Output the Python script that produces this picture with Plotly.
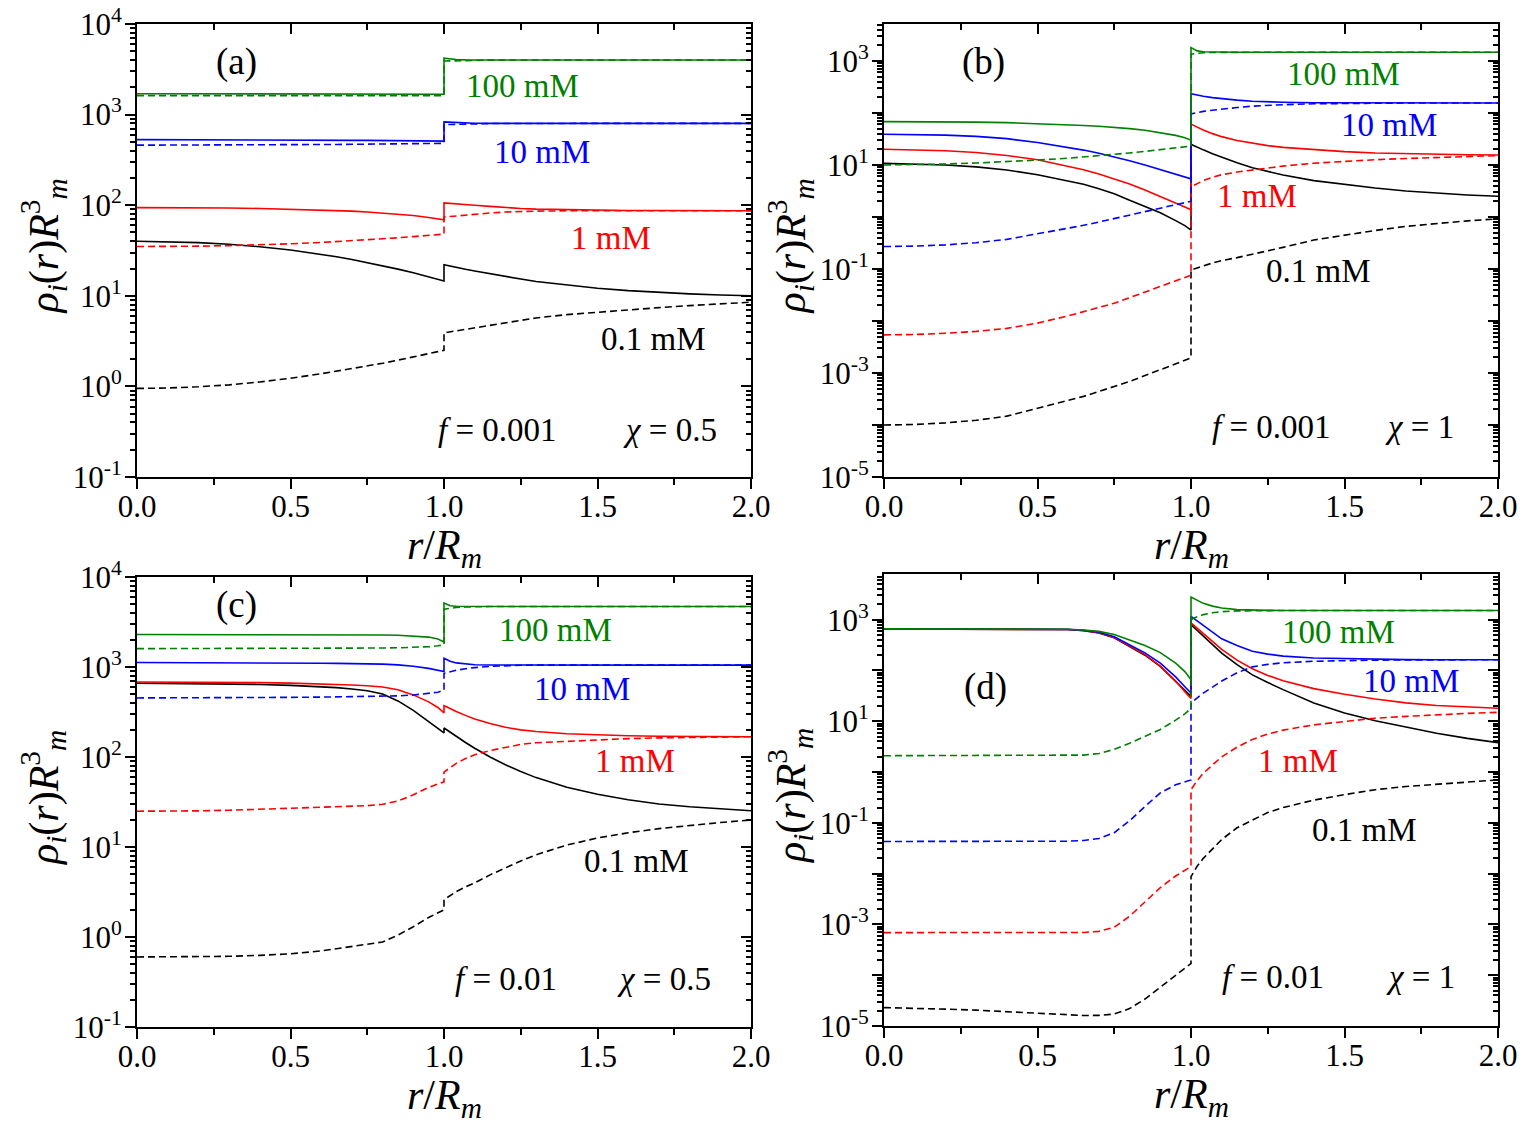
import math
import plotly.graph_objects as go

# ---------------- data ----------------
X_IN = [0.0, 0.1, 0.2, 0.3, 0.4, 0.5, 0.6, 0.65, 0.7, 0.75, 0.8, 0.85, 0.9, 0.95, 0.98, 1.0]
X_OUT = [1.0, 1.01, 1.02, 1.04, 1.07, 1.1, 1.15, 1.2, 1.25, 1.3, 1.4, 1.5, 1.6, 1.7, 1.8, 1.9, 2.0]
CONC_LABELS = ["0.1 mM", "1 mM", "10 mM", "100 mM"]
PANEL_TAGS = ["(a)", "(b)", "(c)", "(d)"]
F_LABELS = ["0.001", "0.001", "0.01", "0.01"]
CHI_LABELS = ["0.5", "1", "0.5", "1"]

# panel (a): f=0.001, chi=0.5  (solid / dashed), values inside (X_IN) then outside (X_OUT)
A_BLACK_SOLID = [40, 39.6, 38.6, 37, 34.8, 32, 28.8, 27, 25.2, 23.3, 21.5, 19.7, 18, 16.2, 15.2, 14.6,
                 22, 21.6, 21.2, 20.5, 19.6, 18.8, 17.5, 16.4, 15.3, 14.4, 13.1, 12.1, 11.4, 10.9, 10.5, 10.2, 10]
A_BLACK_DASH = [0.95, 0.96, 0.99, 1.04, 1.12, 1.23, 1.38, 1.47, 1.57, 1.68, 1.8, 1.95, 2.1, 2.3, 2.42, 2.5,
                3.9, 3.95, 4.0, 4.1, 4.3, 4.5, 4.8, 5.1, 5.4, 5.7, 6.2, 6.6, 7.0, 7.4, 7.8, 8.2, 8.5]
A_RED_SOLID = [94, 94, 93.5, 93, 92, 90.5, 88.5, 87.3, 86, 84.2, 82, 79.7, 77, 73, 71, 69,
               106, 105.5, 105, 104, 102, 100, 97, 94, 92, 90.5, 89, 88, 87.5, 87.3, 87.2, 87.1, 87]
A_RED_DASH = [35, 35, 35.3, 35.8, 36.5, 37.5, 38.8, 39.6, 40.5, 41.5, 42.5, 43.7, 45, 46.5, 47.4, 48,
              74, 74.5, 75, 76.5, 78.5, 80, 82, 84, 85.2, 86, 86.7, 87, 87, 87, 87, 87, 87]
A_BLUE_SOLID = [530, 530, 528, 527, 525, 523, 522, 521, 520, 519, 518, 517, 515, 513, 511, 510,
                830, 826, 822, 815, 808, 804, 801, 800, 800, 800, 800, 800, 800, 800, 800, 800, 800]
A_BLUE_DASH = [460, 460, 461, 462, 463, 465, 467, 468, 470, 471, 473, 475, 477, 480, 481, 482,
               775, 777, 779, 783, 788, 792, 796, 798, 800, 800, 800, 800, 800, 800, 800, 800, 800]
A_GREEN_SOLID = [1700, 1700, 1700, 1700, 1700, 1700, 1700, 1700, 1700, 1700, 1700, 1695, 1690, 1690, 1685, 1680,
                 4200, 4150, 4100, 4050, 4020, 4000, 4000, 4000, 4000, 4000, 4000, 4000, 4000, 4000, 4000, 4000, 4000]
A_GREEN_DASH = [1620, 1620, 1620, 1620, 1620, 1620, 1620, 1620, 1620, 1620, 1620, 1620, 1620, 1620, 1620, 1620,
                3900, 3910, 3920, 3940, 3960, 3980, 3995, 4000, 4000, 4000, 4000, 4000, 4000, 4000, 4000, 4000, 4000]

# panel (b): f=0.001, chi=1
B_BLACK_SOLID = [10.7, 10.5, 10, 9.2, 8, 6.5, 5, 4.25, 3.5, 2.8, 2.1, 1.6, 1.2, 0.85, 0.68, 0.56,
                 25, 23.5, 22, 19.5, 16.5, 14, 11, 8.8, 7.4, 6.4, 5.0, 4.2, 3.6, 3.15, 2.85, 2.65, 2.5]
B_BLACK_DASH = [1.0e-4, 1.02e-4, 1.1e-4, 1.23e-4, 1.48e-4, 2.1e-4, 2.9e-4, 3.55e-4, 4.4e-4, 5.5e-4, 6.9e-4,
                8.9e-4, 1.15e-3, 1.5e-3, 1.74e-3, 1.95e-3,
                0.095, 0.1, 0.105, 0.115, 0.13, 0.145, 0.165, 0.19, 0.22, 0.26, 0.36, 0.45, 0.55, 0.66, 0.75, 0.84, 0.92]
B_RED_SOLID = [20, 19.7, 18.8, 17.3, 15.2, 12.6, 9.6, 8.1, 6.7, 5.4, 4.3, 3.3, 2.5, 1.85, 1.55, 1.37,
               61, 57, 53, 47, 40, 35, 29.5, 26, 23.5, 21.8, 19.5, 18, 17, 16.4, 16, 15.7, 15.5]
B_RED_DASH = [0.0054, 0.0055, 0.0058, 0.0063, 0.0072, 0.0091, 0.0125, 0.015, 0.018, 0.022, 0.028, 0.036,
              0.046, 0.058, 0.068, 0.076,
              3.8, 4.1, 4.4, 5.0, 5.8, 6.5, 7.3, 8.0, 8.8, 9.5, 10.8, 11.8, 12.6, 13.3, 14, 14.6, 15.1]
B_BLUE_SOLID = [39, 38.6, 37.5, 35.5, 32, 27, 22, 19.3, 16.8, 14.3, 12, 10, 8.2, 6.6, 5.9, 5.4,
                235, 228, 221, 210, 197, 187, 176, 168, 163, 160, 157, 156, 155, 155, 155, 155, 155]
B_BLUE_DASH = [0.27, 0.275, 0.29, 0.32, 0.37, 0.47, 0.6, 0.69, 0.8, 0.93, 1.08, 1.25, 1.45, 1.7, 1.85, 2.0,
               96, 99, 102, 107, 113, 119, 127, 135, 140, 144, 150, 153, 155, 155, 155, 155, 155]
B_GREEN_SOLID = [68, 68, 67.5, 66.5, 65, 62.5, 59.5, 57.5, 55.5, 53, 50, 46.5, 42, 37, 33.5, 30,
                 1800, 1650, 1560, 1500, 1480, 1470, 1470, 1470, 1470, 1470, 1470, 1470, 1470, 1470, 1470, 1470, 1470]
B_GREEN_DASH = [10, 10.1, 10.4, 10.9, 11.5, 12.4, 13.5, 14.2, 15, 16, 17, 18.2, 19.5, 21, 22, 23,
                1350, 1380, 1410, 1440, 1455, 1465, 1470, 1470, 1470, 1470, 1470, 1470, 1470, 1470, 1470, 1470, 1470]

# panel (c): f=0.01, chi=0.5
C_BLACK_SOLID = [660, 658, 655, 650, 640, 625, 605, 590, 570, 545, 500, 420, 330, 250, 210, 185,
                 210, 200, 190, 170, 145, 125, 100, 82, 69, 59, 46, 38.5, 33.5, 30, 28, 26.5, 25.3]
C_BLACK_DASH = [0.6, 0.6, 0.605, 0.61, 0.625, 0.65, 0.7, 0.74, 0.78, 0.82, 0.88, 1.05, 1.3, 1.65, 1.85, 2.0,
                2.6, 2.75, 2.9, 3.2, 3.6, 4.0, 4.9, 5.9, 7.0, 8.2, 10.5, 12.6, 14.4, 16, 17.4, 18.7, 20]
C_RED_SOLID = [680, 680, 678, 675, 670, 662, 650, 640, 630, 620, 600, 560, 490, 410, 355, 310,
               372, 360, 345, 320, 290, 265, 235, 214, 200, 192, 181, 175, 172, 170, 169, 168, 168]
C_RED_DASH = [25, 25, 25.2, 25.6, 26.2, 26.8, 27.5, 27.9, 28.3, 28.8, 29.8, 32.5, 38, 46, 50, 53,
              68, 72, 76, 85, 96, 106, 118, 128, 138, 144, 150, 156, 160, 163, 165, 167, 168]
C_BLUE_SOLID = [1120, 1120, 1118, 1115, 1112, 1108, 1100, 1097, 1092, 1085, 1075, 1055, 1020, 965, 920, 890,
                1250, 1200, 1160, 1110, 1075, 1060, 1052, 1050, 1050, 1050, 1050, 1050, 1050, 1050, 1050, 1050, 1050]
C_BLUE_DASH = [453, 453, 454, 455, 457, 460, 463, 465, 467, 469, 472, 478, 488, 505, 525, 550,
               850, 870, 890, 920, 955, 985, 1015, 1035, 1045, 1050, 1050, 1050, 1050, 1050, 1050, 1050, 1050]
C_GREEN_SOLID = [2300, 2300, 2300, 2300, 2300, 2295, 2290, 2285, 2280, 2275, 2265, 2250, 2220, 2150, 2050, 1900,
                 5150, 4950, 4800, 4730, 4710, 4700, 4700, 4700, 4700, 4700, 4700, 4700, 4700, 4700, 4700, 4700, 4700]
C_GREEN_DASH = [1600, 1600, 1600, 1600, 1602, 1605, 1610, 1612, 1615, 1620, 1625, 1635, 1650, 1680, 1720, 1760,
                4400, 4450, 4500, 4580, 4640, 4680, 4700, 4700, 4700, 4700, 4700, 4700, 4700, 4700, 4700, 4700, 4700]

# panel (d): f=0.01, chi=1
D_BLACK_SOLID = [660, 660, 660, 660, 660, 655, 640, 610, 550, 440, 300, 200, 120, 62, 40, 31,
                 800, 700, 610, 470, 320, 220, 130, 82, 58, 42, 23, 14.5, 10.2, 7.6, 5.8, 4.6, 3.8]
D_BLACK_DASH = [2.3e-5, 2.25e-5, 2.15e-5, 2.05e-5, 1.9e-5, 1.75e-5, 1.64e-5, 1.61e-5, 1.62e-5, 1.72e-5, 2.2e-5,
                3.4e-5, 5.8e-5, 1.0e-4, 1.35e-4, 1.7e-4,
                0.0087, 0.011, 0.014, 0.02, 0.031, 0.047, 0.08, 0.115, 0.16, 0.2, 0.28, 0.36, 0.45, 0.52, 0.58, 0.64, 0.7]
D_RED_SOLID = [660, 660, 660, 660, 660, 655, 640, 612, 555, 445, 305, 205, 122, 62, 38, 28,
               870, 770, 680, 540, 380, 260, 160, 108, 80, 63, 44, 34, 27.5, 23, 20.5, 19, 18]
D_RED_DASH = [6.9e-4, 6.9e-4, 6.9e-4, 6.85e-4, 6.8e-4, 6.8e-4, 6.85e-4, 6.95e-4, 7.3e-4, 8.8e-4, 1.45e-3, 2.8e-3,
              5.3e-3, 9.0e-3, 0.0118, 0.0138,
              0.45, 0.55, 0.68, 0.95, 1.4, 2.0, 3.1, 4.4, 5.6, 6.7, 8.5, 10, 11.5, 12.5, 13.5, 14.3, 15]
D_BLUE_SOLID = [660, 660, 660, 660, 660, 656, 643, 618, 565, 460, 320, 222, 140, 75, 48, 36,
                1160, 1050, 950, 790, 590, 420, 310, 240, 210, 192, 176, 170, 166, 164, 163, 163, 163]
D_BLUE_DASH = [0.043, 0.043, 0.043, 0.043, 0.043, 0.043, 0.0435, 0.045, 0.049, 0.064, 0.11, 0.21, 0.39, 0.56, 0.65, 0.7,
               23, 26, 29, 36, 47, 62, 90, 118, 132, 142, 152, 157, 160, 161, 162, 163, 163]
D_GREEN_SOLID = [660, 660, 660, 660, 660, 657, 648, 628, 590, 510, 400, 310, 225, 140, 95, 66,
                 2800, 2600, 2400, 2100, 1850, 1700, 1580, 1540, 1525, 1520, 1520, 1520, 1520, 1520, 1520, 1520, 1520]
D_GREEN_DASH = [2.1, 2.1, 2.1, 2.1, 2.1, 2.1, 2.11, 2.16, 2.32, 2.8, 3.7, 5.0, 6.9, 10.5, 14, 18,
                1000, 1080, 1150, 1260, 1370, 1440, 1490, 1510, 1518, 1520, 1520, 1520, 1520, 1520, 1520, 1520, 1520]

# y-axis decades per panel (exponents)
A_DECADES = [-1, 0, 1, 2, 3, 4]
B_DECADES = [-5, -4, -3, -2, -1, 0, 1, 2, 3]
C_DECADES = [-1, 0, 1, 2, 3, 4]
D_DECADES = [-5, -4, -3, -2, -1, 0, 1, 2, 3]
B_LABELED = [-5, -3, -1, 1, 3]
D_LABELED = [-5, -3, -1, 1, 3]
X_TICKS = [0.0, 0.5, 1.0, 1.5, 2.0]

# ---------------- styling ----------------
FONT = "Liberation Serif, Times New Roman, serif"
COLORS = ["#000000", "#ff0000", "#0000ff", "#008000"]
W, H = 1524, 1125
TICK_SIZE = 31

panels = [
    dict(series=[(A_BLACK_SOLID, A_BLACK_DASH), (A_RED_SOLID, A_RED_DASH),
                 (A_BLUE_SOLID, A_BLUE_DASH), (A_GREEN_SOLID, A_GREEN_DASH)],
         decades=A_DECADES, labeled=A_DECADES, yrange=[-1, 4], box=(137, 751, 24, 477)),
    dict(series=[(B_BLACK_SOLID, B_BLACK_DASH), (B_RED_SOLID, B_RED_DASH),
                 (B_BLUE_SOLID, B_BLUE_DASH), (B_GREEN_SOLID, B_GREEN_DASH)],
         decades=B_DECADES, labeled=B_LABELED, yrange=[-5, 3.71], box=(884, 1498, 24, 477)),
    dict(series=[(C_BLACK_SOLID, C_BLACK_DASH), (C_RED_SOLID, C_RED_DASH),
                 (C_BLUE_SOLID, C_BLUE_DASH), (C_GREEN_SOLID, C_GREEN_DASH)],
         decades=C_DECADES, labeled=C_DECADES, yrange=[-1, 4], box=(137, 751, 577, 1027)),
    dict(series=[(D_BLACK_SOLID, D_BLACK_DASH), (D_RED_SOLID, D_RED_DASH),
                 (D_BLUE_SOLID, D_BLUE_DASH), (D_GREEN_SOLID, D_GREEN_DASH)],
         decades=D_DECADES, labeled=D_LABELED, yrange=[-5, 3.9], box=(884, 1498, 574, 1026)),
]

LABEL_POS = [
    dict(tag=(236, 62), conc=[(653, 339), (611, 238), (542, 152), (522, 86)], f=(497, 430), chi=(670, 430)),
    dict(tag=(983, 62), conc=[(1318, 271), (1257, 196), (1389, 125), (1343, 74)], f=(1271, 427), chi=(1419, 427)),
    dict(tag=(236, 605), conc=[(636, 861), (635, 761), (582, 689), (555, 630)], f=(506, 979), chi=(664, 979)),
    dict(tag=(985, 687), conc=[(1364, 830), (1298, 761), (1411, 681), (1338, 632)], f=(1273, 977), chi=(1420, 977)),
]

X_ALL = X_IN + X_OUT
fig = go.Figure()
layout = dict(width=W, height=H, autosize=False,
              margin=dict(l=0, r=0, t=0, b=0, pad=0, autoexpand=False),
              plot_bgcolor="white", paper_bgcolor="white", showlegend=False,
              font=dict(family=FONT, color="black", size=TICK_SIZE))
annotations = []


def px(x):
    return x / W


def py(y):
    return 1 - y / H


for i, p in enumerate(panels):
    n = i + 1
    ov = i + 5
    xl, xr, yt, yb = p["box"]
    xdom = [px(xl), px(xr)]
    ydom = [py(yb), py(yt)]
    sx = "" if n == 1 else str(n)
    xa, ya = "x" + sx, "y" + sx

    for (solid, dash), color in zip(p["series"], COLORS):
        fig.add_trace(go.Scatter(x=X_ALL, y=dash, mode="lines", xaxis=xa, yaxis=ya,
                                 line=dict(color=color, width=1.6, dash="7px,4px"),
                                 hoverinfo="skip"))
        fig.add_trace(go.Scatter(x=X_ALL, y=solid, mode="lines", xaxis=xa, yaxis=ya,
                                 line=dict(color=color, width=1.6), hoverinfo="skip"))
    # empty traces that carry the mirrored (inside) tick axes
    fig.add_trace(go.Scatter(x=[None], y=[None], xaxis="x" + str(ov), yaxis=ya,
                             showlegend=False, hoverinfo="skip"))
    fig.add_trace(go.Scatter(x=[None], y=[None], xaxis=xa, yaxis="y" + str(ov),
                             showlegend=False, hoverinfo="skip"))

    tickvals = [10.0 ** k for k in p["decades"]]
    ticktext = [("10<sup>%d</sup>" % k) if k in p["labeled"] else "" for k in p["decades"]]
    minor_vals = [m * 10.0 ** k for k in p["decades"] for m in range(2, 10)
                  if p["yrange"][0] <= k + math.log10(m) <= p["yrange"][1]]

    xcommon = dict(range=[0, 2], showgrid=False, zeroline=False, automargin=False)
    layout["xaxis" + sx] = dict(domain=xdom, anchor=ya, tickmode="array", tickvals=X_TICKS,
                                ticktext=["%.1f" % v for v in X_TICKS],
                                ticks="outside", ticklen=10, tickwidth=2, tickcolor="black",
                                ticklabelstandoff=-9,
                                showline=True, linewidth=2, linecolor="black", mirror=True,
                                minor=dict(ticks="outside", ticklen=6, tickwidth=2, dtick=0.25,
                                           tick0=0, tickcolor="black"),
                                tickfont=dict(size=TICK_SIZE, family=FONT), **xcommon)
    layout["xaxis" + str(ov)] = dict(overlaying=xa, anchor=ya, side="top", tickmode="array",
                                     tickvals=X_TICKS, ticks="inside", ticklen=10, tickwidth=2,
                                     tickcolor="black", showticklabels=False, showline=False,
                                     minor=dict(ticks="inside", ticklen=6, tickwidth=2, dtick=0.25,
                                                tick0=0, tickcolor="black"),
                                     **xcommon)
    ycommon = dict(type="log", range=p["yrange"], showgrid=False, zeroline=False, automargin=False)
    layout["yaxis" + sx] = dict(domain=ydom, anchor=xa, tickmode="array", tickvals=tickvals,
                                ticktext=ticktext, ticks="outside", ticklen=10, tickwidth=2,
                                tickcolor="black", showline=True, linewidth=2, linecolor="black",
                                mirror=True, ticklabelstandoff=-3,
                                minor=dict(tickmode="array", tickvals=minor_vals, ticks="outside",
                                           ticklen=5, tickwidth=1.5, tickcolor="black"),
                                tickfont=dict(size=TICK_SIZE, family=FONT), **ycommon)
    layout["yaxis" + str(ov)] = dict(overlaying=ya, anchor=xa, side="right", tickmode="array",
                                     tickvals=tickvals, ticks="inside", ticklen=10, tickwidth=2,
                                     tickcolor="black", showticklabels=False, showline=False,
                                     minor=dict(tickmode="array", tickvals=minor_vals, ticks="inside",
                                                ticklen=5, tickwidth=1.5, tickcolor="black"),
                                     **ycommon)

    # axis titles
    annotations.append(dict(x=px((xl + xr) / 2), y=py(yb + 71), xref="paper", yref="paper",
                            text="<i>r</i>/<i>R</i><sub><i>m</i></sub>", showarrow=False,
                            font=dict(size=42, family=FONT), xanchor="center", yanchor="middle"))
    annotations.append(dict(x=px(xl - 94), y=py((yt + yb) / 2 - 4), xref="paper", yref="paper",
                            text="<i>ρ</i><sub><i>i</i></sub>(<i>r</i>)<i>R</i><sup>3</sup><sub><i>m</i></sub>",
                            textangle=-90, showarrow=False,
                            font=dict(size=42, family=FONT), xanchor="center", yanchor="middle"))

    lp = LABEL_POS[i]
    annotations.append(dict(x=px(lp["tag"][0]), y=py(lp["tag"][1]), xref="paper", yref="paper",
                            text=PANEL_TAGS[i], showarrow=False, font=dict(size=37, family=FONT),
                            xanchor="center", yanchor="middle"))
    for (cx, cy), lab, color in zip(lp["conc"], CONC_LABELS, COLORS):
        annotations.append(dict(x=px(cx), y=py(cy), xref="paper", yref="paper", text=lab,
                                showarrow=False, font=dict(size=33, family=FONT, color=color),
                                xanchor="center", yanchor="middle"))
    annotations.append(dict(x=px(lp["f"][0]), y=py(lp["f"][1]), xref="paper", yref="paper",
                            text="<i>f</i> = " + F_LABELS[i], showarrow=False,
                            font=dict(size=33, family=FONT), xanchor="center", yanchor="middle"))
    annotations.append(dict(x=px(lp["chi"][0]), y=py(lp["chi"][1]), xref="paper", yref="paper",
                            text="<i>χ</i> = " + CHI_LABELS[i], showarrow=False,
                            font=dict(size=33, family=FONT), xanchor="center", yanchor="middle"))

layout["annotations"] = annotations
fig.update_layout(**layout)
fig.write_html("out.html")
